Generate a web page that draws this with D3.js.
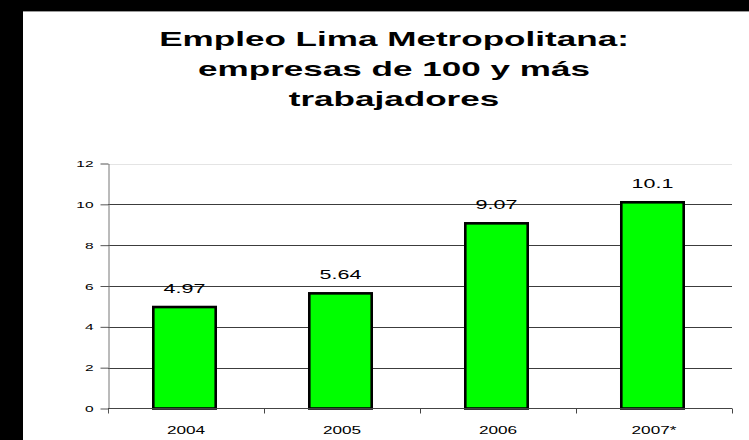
<!DOCTYPE html>
<html>
<head>
<meta charset="utf-8">
<script src="https://cdn.jsdelivr.net/npm/d3@7"></script>
<style>
  html, body { margin: 0; background: #fff; overflow: hidden; }
  svg { display: block; font-family: "Liberation Sans", Arial, sans-serif; }
</style>
</head>
<body>
<svg id="chart" width="749" height="440"></svg>
<script>
// data
const categories = ["2004", "2005", "2006", "2007*"];
const values = [4.97, 5.64, 9.07, 10.1];
const yTicks = [0, 2, 4, 6, 8, 10, 12];
const titleLines = ["Empleo Lima Metropolitana:", "empresas de 100 y más", "trabajadores"];

const svg = d3.select("#chart");
const stretch = 1.72;  // the original picture is stretched sideways

// black frame on top and left, white page
svg.append("rect").attr("width", 749).attr("height", 440).attr("fill", "#000");
svg.append("rect").attr("x", 23).attr("y", 11).attr("width", 726).attr("height", 429).attr("fill", "#fff");
svg.append("line").attr("x1", 23).attr("x2", 749).attr("y1", 11.5).attr("y2", 11.5)
    .attr("stroke", "#999").attr("stroke-width", 1);

const plot = {left: 108, right: 732, top: 163.5, bottom: 408.5};

const x = d3.scaleBand().domain(categories).range([plot.left, plot.right]);
const y = d3.scaleLinear().domain([0, 12]).range([plot.bottom, plot.top]);

function stretchedText(parent, tx, ty, txt, size, weight, anchor) {
    return parent.append("text")
        .attr("transform", `translate(${tx},${ty}) scale(${stretch},1)`)
        .attr("text-anchor", anchor || "middle")
        .style("font-size", size + "px")
        .style("font-weight", weight || "normal")
        .attr("fill", "#000")
        .text(txt);
}

// title
titleLines.forEach((t, i) => {
    stretchedText(svg, 394, 45.7 + i * 30.2, t, 20.4, "bold");
});

// gridlines
svg.append("g").selectAll("line")
    .data(yTicks.filter(d => d > 0))
    .join("line")
    .attr("x1", plot.left).attr("x2", plot.right)
    .attr("y1", d => Math.round(y(d)) + 0.5).attr("y2", d => Math.round(y(d)) + 0.5)
    .attr("stroke", d => d === 12 ? "#e4e4e4" : "#3c3c3c")
    .attr("stroke-width", 1);

// y axis
const yAxis = svg.append("g")
    .attr("transform", `translate(${plot.left + 0.5},0)`)
    .call(d3.axisLeft(y).tickValues(yTicks).tickSize(8).tickSizeOuter(0).tickFormat(d3.format("d")));
yAxis.select(".domain").attr("stroke", "#777");
yAxis.selectAll(".tick line").attr("stroke", "#555");
yAxis.selectAll(".tick text")
    .attr("x", null)
    .attr("transform", `translate(-15,0) scale(${stretch},1)`)
    .attr("dy", "0.35em")
    .style("font-size", "9px")
    .style("font-family", "Liberation Sans, Arial, sans-serif")
    .attr("fill", "#000");
yAxis.append("line").attr("x1", 0).attr("x2", 0).attr("y1", plot.bottom).attr("y2", plot.bottom + 5)
    .attr("stroke", "#555");

// bars
const barW = x.bandwidth() * 0.4;
svg.append("g").selectAll("rect")
    .data(values)
    .join("rect")
    .attr("x", (d, i) => x(categories[i]) + (x.bandwidth() - barW) / 2 - 1.5)
    .attr("y", d => y(d))
    .attr("width", barW)
    .attr("height", d => plot.bottom - y(d))
    .attr("fill", "#00ff00")
    .attr("stroke", "#000")
    .attr("stroke-width", 2.6);

// x axis line and boundary ticks
svg.append("line")
    .attr("x1", plot.left).attr("x2", plot.right)
    .attr("y1", plot.bottom).attr("y2", plot.bottom)
    .attr("stroke", "#444");
svg.append("g").selectAll("line")
    .data(categories.slice(0, -1).map(c => x(c) + x.bandwidth()).concat([plot.right]))
    .join("line")
    .attr("x1", d => Math.round(d) + 0.5).attr("x2", d => Math.round(d) + 0.5)
    .attr("y1", plot.bottom).attr("y2", plot.bottom + 5)
    .attr("stroke", "#444");

// category labels
categories.forEach(c => {
    stretchedText(svg, x(c) + x.bandwidth() / 2, 434, c, 10);
});

// value labels
values.forEach((v, i) => {
    stretchedText(svg, x(categories[i]) + x.bandwidth() / 2 - 1.5, y(v) - 14.5, String(v), 12.5);
});
</script>
</body>
</html>
